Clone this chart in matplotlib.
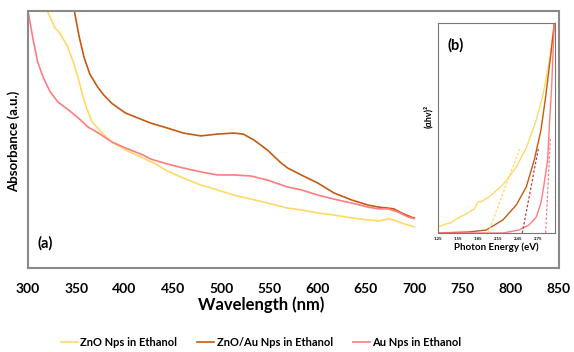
import matplotlib
matplotlib.use("Agg")
import matplotlib.pyplot as plt

plt.rcParams['font.family'] = ['Lato', 'DejaVu Sans']

# ---- Main panel (a): UV-Vis absorbance (arbitrary units) ----
wl_zno = [312, 320, 328, 333, 341, 347, 352, 356, 360, 366, 377, 387, 401, 419, 432, 444, 461, 479, 496,
          513, 531, 548, 569, 583, 600, 617, 635, 652, 664, 673, 679, 687, 697, 700]
abs_zno = [1.06, 1.0, 0.934, 0.914, 0.862, 0.800, 0.740, 0.680, 0.630, 0.570, 0.525, 0.490, 0.459, 0.428,
           0.405, 0.378, 0.350, 0.323, 0.304, 0.284, 0.268, 0.253, 0.233, 0.226, 0.214, 0.206, 0.195,
           0.187, 0.183, 0.191, 0.187, 0.175, 0.163, 0.160]

wl_znoau = [342, 348, 353, 358, 364, 372, 378, 387, 401, 419, 427, 444, 461, 479, 496, 513, 523, 534, 548,
            562, 569, 583, 600, 617, 635, 652, 663, 673, 679, 687, 697, 700]
abs_znoau = [1.08, 1.0, 0.900, 0.820, 0.755, 0.705, 0.675, 0.640, 0.603, 0.576, 0.564, 0.545, 0.525, 0.514,
             0.521, 0.525, 0.521, 0.498, 0.459, 0.409, 0.389, 0.362, 0.331, 0.292, 0.265, 0.245, 0.237,
             0.233, 0.230, 0.214, 0.198, 0.195]

wl_au = [300, 305, 310, 316, 323, 331, 342, 352, 362, 373, 387, 401, 419, 427, 444, 461, 479, 496, 513, 531,
         548, 569, 583, 600, 617, 635, 652, 663, 673, 683, 694, 700]
abs_au = [1.0, 0.895, 0.802, 0.739, 0.685, 0.646, 0.615, 0.584, 0.549, 0.525, 0.490, 0.467, 0.440, 0.424,
          0.405, 0.389, 0.374, 0.362, 0.362, 0.358, 0.342, 0.315, 0.304, 0.284, 0.268, 0.253, 0.237,
          0.230, 0.230, 0.218, 0.198, 0.192]

x_ticks = [300, 350, 400, 450, 500, 550, 600, 650, 700, 750, 800, 850]
series_names = ["ZnO Nps in Ethanol", "ZnO/Au Nps in Ethanol", "Au Nps in Ethanol"]

# ---- Inset panel (b): Tauc plot ----
ev_zno = [1.25, 1.37, 1.44, 1.52, 1.67, 1.79, 1.85, 1.89, 2.01, 2.22, 2.42, 2.57, 2.72, 2.82, 2.91, 2.99]
tauc_zno = [0.029, 0.043, 0.048, 0.067, 0.090, 0.114, 0.148, 0.148, 0.171, 0.229, 0.314, 0.405, 0.538,
            0.657, 0.810, 1.0]
ev_znoau = [1.25, 1.71, 1.97, 2.22, 2.42, 2.57, 2.69, 2.79, 2.86, 2.94, 2.99]
tauc_znoau = [0.0, 0.005, 0.014, 0.062, 0.133, 0.219, 0.348, 0.490, 0.648, 0.857, 1.0]
ev_au = [1.25, 2.22, 2.46, 2.61, 2.72, 2.79, 2.83, 2.89, 2.92, 2.95, 2.97, 2.99]
tauc_au = [0.0, 0.0, 0.014, 0.038, 0.076, 0.143, 0.219, 0.348, 0.538, 0.695, 0.857, 1.0]
# tangent (extrapolation) lines
fit_zno = ([2.00, 2.47], [0.0, 0.40])
fit_znoau = ([2.51, 2.75], [0.0, 0.40])
fit_au = ([2.86, 2.93], [0.0, 0.45])
inset_ticks = [1.25, 1.55, 1.85, 2.15, 2.45, 2.75]

c_zno = "#FFD966"
c_znoau = "#C55A11"
c_znoau_fit = "#B8404A"
c_au = "#FF7C80"

fig = plt.figure(figsize=(5.74, 3.52), dpi=100)
ax = fig.add_axes([28/574, 1-268/352, (559-28)/574, (268-11)/352])
l1, = ax.plot(wl_zno, abs_zno, color=c_zno, lw=1.2)
l2, = ax.plot(wl_znoau, abs_znoau, color=c_znoau, lw=1.2)
l3, = ax.plot(wl_au, abs_au, color=c_au, lw=1.2)
ax.set_xlim(300, 850)
ax.set_ylim(0, 1)
ax.set_xticks(x_ticks)
ax.set_xticklabels([str(t) for t in x_ticks], fontweight='bold', fontsize=10)
ax.set_yticks([])
ax.tick_params(axis='x', length=0, pad=11)
for s in ax.spines.values():
    s.set_color('#8a8a8a')
    s.set_linewidth(1.5)
fig.text(261/574, 1-305/352, "Wavelength (nm)", ha='center', va='center',
         fontweight='bold', fontsize=12)
fig.text(14/574, 1-141/352, "Absorbance (a.u.)", rotation=90, ha='center', va='center',
         fontweight='bold', fontsize=9.5)
fig.text(37/574, 1-243/352, "(a)", ha='left', va='center', fontweight='bold', fontsize=10.5)

fig.legend([l1, l2, l3], series_names, loc='center', bbox_to_anchor=(261/574, 1-342/352),
           ncol=3, frameon=False, prop={'weight': 'bold', 'size': 8},
           handlelength=1.55, handletextpad=0.2, columnspacing=1.8)

# inset
ins = fig.add_axes([438/574, 1-233/352, (555-438)/574, (233-23)/352])
ins.plot(ev_zno, tauc_zno, color=c_zno, lw=1.0)
ins.plot(ev_znoau, tauc_znoau, color=c_znoau, lw=1.0)
ins.plot(ev_au, tauc_au, color=c_au, lw=1.0)
ins.plot(*fit_zno, color=c_zno, lw=0.9, ls=(0, (2, 1.5)))
ins.plot(*fit_znoau, color=c_znoau_fit, lw=0.9, ls=(0, (2, 1.5)))
ins.plot(*fit_au, color=c_au, lw=0.9, ls=(0, (2, 1.5)))
ins.set_xlim(1.25, 3.0)
ins.set_ylim(0, 1.0)
ins.set_xticks(inset_ticks)
ins.set_xticklabels([f"{t:.2f}" for t in inset_ticks], fontsize=3.2, fontweight='bold')
ins.set_yticks([])
ins.tick_params(axis='x', length=0, pad=3)
for s in ins.spines.values():
    s.set_color('#777777')
    s.set_linewidth(0.8)
ins.set_xlabel("Photon Energy (eV)", fontweight='bold', fontsize=7, labelpad=1)
fig.text(428/574, 1-116/352, "(αhv)²", rotation=90, ha='center', va='center',
         fontweight='bold', fontsize=6.5)
fig.text(448/574, 1-45/352, "(b)", ha='left', va='center', fontweight='bold', fontsize=10.5)

fig.savefig("out.png", dpi=100)
